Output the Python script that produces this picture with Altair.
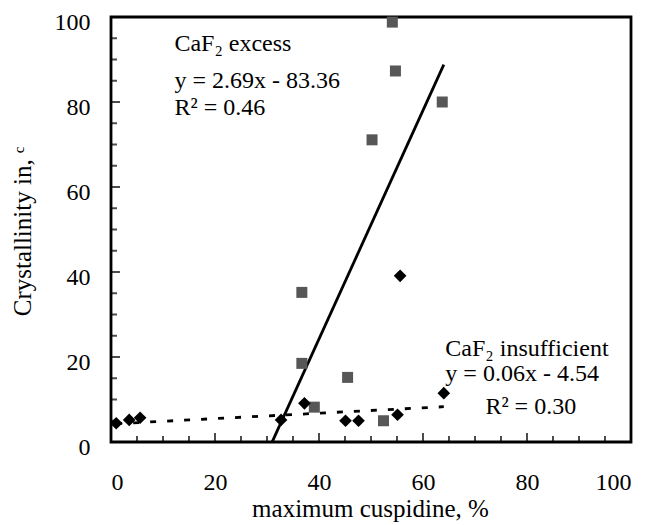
import altair as alt
import pandas as pd

# CaF2 excess (grey squares)
excess_x = [36.7, 36.7, 39.1, 45.5, 50.2, 52.4, 54.1, 54.7, 63.7]
excess_y = [35.2, 18.5, 8.2, 15.2, 71.1, 5.0, 98.8, 87.3, 80.0]

# CaF2 insufficient (black diamonds)
insuff_x = [1.0, 3.5, 5.6, 32.7, 37.2, 45.1, 47.6, 55.1, 55.6, 64.0]
insuff_y = [4.4, 5.2, 5.7, 5.2, 9.1, 5.0, 5.0, 6.4, 39.1, 11.5]

# trend lines (end points)
fit_excess_x = [31.0, 64.0]
fit_excess_y = [2.69 * v - 83.36 for v in fit_excess_x]
fit_insuff_x = [1.0, 64.0]
fit_insuff_y = [4.3, 8.3]

tick_labels = [0, 20, 40, 60, 80, 100]
minor_ticks = [5, 10, 15, 25, 30, 35, 45, 50, 55, 65, 70, 75, 85, 90, 95]
major_ticks = [20, 40, 60, 80]

ann_x = [12.2, 12.2, 12.2, 64.3, 64.3, 72.0]
ann_y = [93.6, 85.0, 78.6, 21.8, 16.0, 8.2]
ann_text = ["CaF₂ excess", "y = 2.69x - 83.36", "R² = 0.46",
            "CaF₂ insufficient", "y = 0.06x - 4.54", "R² = 0.30"]

W, H = 520, 425
FONT = "Liberation Serif"

xaxis = alt.Axis(values=tick_labels, grid=False, domain=False, ticks=False,
                 labelFont=FONT, labelFontSize=24, labelColor="black",
                 labelPadding=28, labelBaseline="top",
                 titleFont=FONT, titleFontSize=25, titleFontWeight="normal",
                 titleColor="black", titleX=259, titleY=66,
                 titleAlign="center", titleBaseline="middle")
yaxis = alt.Axis(values=tick_labels, grid=False, domain=False, ticks=False,
                 labelFont=FONT, labelFontSize=24, labelColor="black",
                 labelPadding=21, labelOffset=5,
                 titleFont=FONT, titleFontSize=25, titleFontWeight="normal",
                 titleColor="black", titleX=-89, titleY=214, titleAngle=270,
                 titleAlign="center", titleBaseline="middle")

xs = alt.Scale(domain=[0, 100], nice=False, zero=False)
ys = alt.Scale(domain=[0, 100], nice=False, zero=False)

X = alt.X("x:Q", scale=xs, axis=xaxis, title="maximum cuspidine, %")
Y = alt.Y("y:Q", scale=ys, axis=yaxis, title="Crystallinity in, ᶜ")

df_ex = pd.DataFrame({"x": excess_x, "y": excess_y})
df_in = pd.DataFrame({"x": insuff_x, "y": insuff_y})
df_fe = pd.DataFrame({"x": fit_excess_x, "y": fit_excess_y})
df_fi = pd.DataFrame({"x": fit_insuff_x, "y": fit_insuff_y})
df_ann = pd.DataFrame({"x": ann_x, "y": ann_y, "t": ann_text})
df_minor = pd.DataFrame({"x": minor_ticks, "y": minor_ticks})
df_major = pd.DataFrame({"x": major_ticks, "y": major_ticks})

line_ex = alt.Chart(df_fe).mark_line(color="black", strokeWidth=2.8).encode(x=X, y=Y)
line_in = alt.Chart(df_fi).mark_line(color="black", strokeWidth=2.8,
                                     strokeDash=[6, 11]).encode(x=X, y=Y)
pts_ex = alt.Chart(df_ex).mark_point(shape="square", filled=True, size=121,
                                     color="#575757", opacity=1).encode(x=X, y=Y)
pts_in = alt.Chart(df_in).mark_point(shape="diamond", filled=True, size=160,
                                     color="black", opacity=1).encode(x=X, y=Y)
text = alt.Chart(df_ann).mark_text(align="left", baseline="middle", font=FONT,
                                   fontSize=24, color="black").encode(x=X, y=Y, text="t:N")

bt_minor = alt.Chart(df_minor).mark_tick(orient="vertical", size=6, thickness=2,
                                         color="black").encode(x=X, y=alt.value(H - 3))
bt_major = alt.Chart(df_major).mark_tick(orient="vertical", size=9, thickness=2,
                                         color="black").encode(x=X, y=alt.value(H - 4.5))
lt_minor = alt.Chart(df_minor).mark_tick(orient="horizontal", size=6, thickness=2,
                                         color="black").encode(y=Y, x=alt.value(3))
lt_major = alt.Chart(df_major).mark_tick(orient="horizontal", size=9, thickness=2,
                                         color="black").encode(y=Y, x=alt.value(4.5))

chart = alt.layer(bt_minor, bt_major, lt_minor, lt_major,
                  line_in, line_ex, pts_ex, pts_in, text).properties(
    width=W, height=H,
    autosize=alt.AutoSizeParams(type="none"),
    padding={"left": 111, "top": 17, "right": 16, "bottom": 83},
    background="white",
).configure_view(stroke="black", strokeWidth=2.8)

chart.save("out.html", embed_options={"renderer": "svg", "actions": False})
